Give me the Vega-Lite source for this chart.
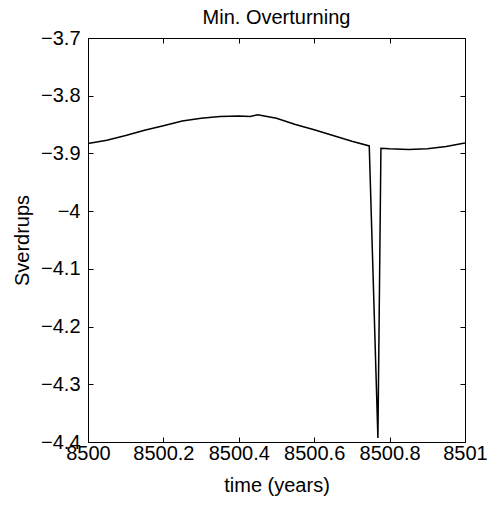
{
  "$schema": "https://vega.github.io/schema/vega-lite/v6.json",
  "width": 377,
  "height": 404,
  "autosize": {"type": "none"},
  "padding": {"left": 88, "top": 38, "right": 26, "bottom": 65},
  "background": "white",
  "title": {"text": "Min. Overturning", "font": "Liberation Sans", "fontSize": 20, "fontWeight": "normal", "color": "black", "offset": 0},
  "config": {
    "view": {"stroke": "black", "strokeWidth": 1},
    "axis": {"grid": false, "domainColor": "black", "tickColor": "black", "labelColor": "black", "titleColor": "black", "labelFont": "Liberation Sans", "titleFont": "Liberation Sans", "labelFontSize": 20, "titleFontSize": 20, "titleFontWeight": "normal", "tickSize": -5, "labelFlush": false, "labelOverlap": false, "labelBound": false}
  },
  "data": {"values": [
    {"t": 8500.0, "v": -3.883},
    {"t": 8500.05, "v": -3.877},
    {"t": 8500.1, "v": -3.869},
    {"t": 8500.15, "v": -3.86},
    {"t": 8500.2, "v": -3.852},
    {"t": 8500.25, "v": -3.844},
    {"t": 8500.3, "v": -3.839},
    {"t": 8500.35, "v": -3.836},
    {"t": 8500.4, "v": -3.835},
    {"t": 8500.43, "v": -3.836},
    {"t": 8500.45, "v": -3.833},
    {"t": 8500.5, "v": -3.839},
    {"t": 8500.55, "v": -3.85},
    {"t": 8500.6, "v": -3.859},
    {"t": 8500.65, "v": -3.869},
    {"t": 8500.7, "v": -3.879},
    {"t": 8500.746, "v": -3.887},
    {"t": 8500.769, "v": -4.393},
    {"t": 8500.777, "v": -3.891},
    {"t": 8500.8, "v": -3.892},
    {"t": 8500.85, "v": -3.893},
    {"t": 8500.9, "v": -3.892},
    {"t": 8500.95, "v": -3.888},
    {"t": 8501.0, "v": -3.882}
  ]},
  "layer": [
    {
      "mark": {"type": "line", "color": "black", "strokeWidth": 1.5, "clip": true},
      "encoding": {
        "x": {"field": "t", "type": "quantitative", "scale": {"domain": [8500, 8501], "nice": false, "zero": false},
              "axis": {"orient": "bottom", "values": [8500, 8500.2, 8500.4, 8500.6, 8500.8, 8501], "format": "~f", "title": "time (years)", "labelPadding": 6, "titlePadding": 12}},
        "y": {"field": "v", "type": "quantitative", "scale": {"domain": [-4.4, -3.7], "nice": false, "zero": false},
              "axis": {"orient": "left", "values": [-4.4, -4.3, -4.2, -4.1, -4, -3.9, -3.8, -3.7], "format": "~f", "title": "Sverdrups", "labelPadding": 13, "titlePadding": 8}}
      }
    },
    {
      "mark": {"type": "line", "color": "black", "strokeWidth": 0, "opacity": 0},
      "encoding": {
        "x": {"field": "t", "type": "quantitative", "scale": {"domain": [8500, 8501], "nice": false, "zero": false},
              "axis": {"orient": "top", "values": [8500, 8500.2, 8500.4, 8500.6, 8500.8, 8501], "labels": false, "domain": false, "title": null}},
        "y": {"field": "v", "type": "quantitative", "scale": {"domain": [-4.4, -3.7], "nice": false, "zero": false},
              "axis": {"orient": "right", "values": [-4.4, -4.3, -4.2, -4.1, -4, -3.9, -3.8, -3.7], "labels": false, "domain": false, "title": null}}
      }
    }
  ],
  "resolve": {"axis": {"x": "independent", "y": "independent"}}
}
